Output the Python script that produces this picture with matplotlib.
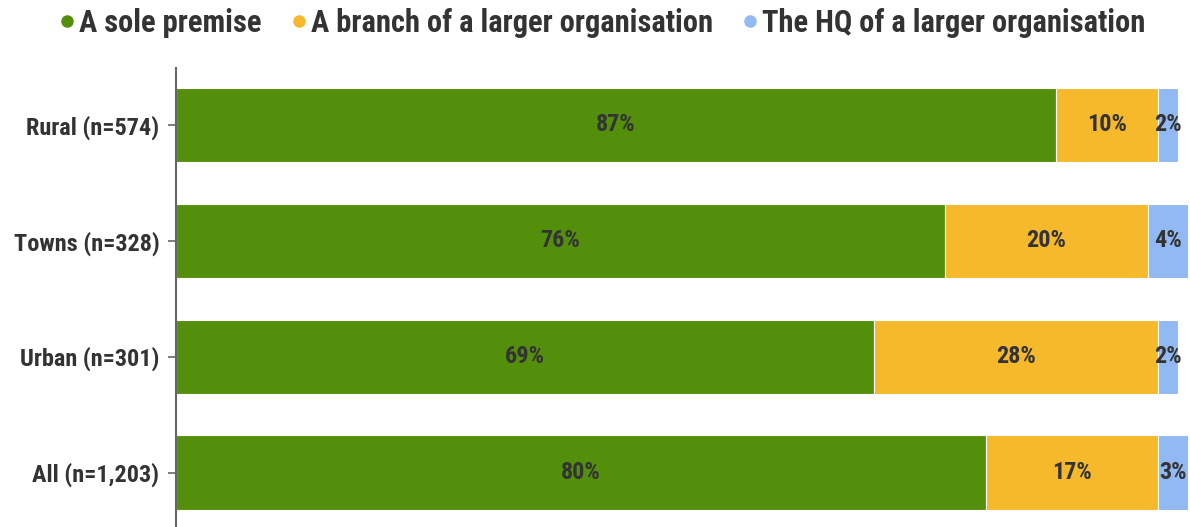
import matplotlib.pyplot as plt
from matplotlib.lines import Line2D
import numpy as np

# data
categories = ["Rural (n=574)", "Towns (n=328)", "Urban (n=301)", "All (n=1,203)"]
series = ["A sole premise", "A branch of a larger organisation", "The HQ of a larger organisation"]
sole = [87, 76, 69, 80]
branch = [10, 20, 28, 17]
hq = [2, 4, 2, 3]
colors = ["#548f0c", "#f6b92c", "#92b9f4"]
TEXT = "#333333"

plt.rcParams['font.family'] = ['Roboto Condensed', 'Roboto', 'DejaVu Sans']
plt.rcParams['font.weight'] = 'bold'

fig = plt.figure(figsize=(11.9, 5.27), dpi=100)
ax = fig.add_axes([176/1190, 0, (1188-176)/1190, (527-68)/527])

y = np.arange(len(categories))
left = np.zeros(len(categories))
for vals, col, name in zip([sole, branch, hq], colors, series):
    bars = ax.barh(y, vals, left=left, height=0.64, color=col,
                   edgecolor="white", linewidth=0.8, label=name)
    for b, v in zip(bars, vals):
        ax.text(b.get_x() + b.get_width()/2, b.get_y() + b.get_height()/2,
                f"{v}%", ha="center", va="center", color=TEXT,
                fontsize=17.5, fontweight="bold")
    left += np.array(vals)

ax.set_xlim(0, 100)
ax.set_ylim(3.47, -0.49)
ax.set_yticks(y)
ax.set_yticklabels(categories, fontsize=17.5, fontweight="bold", color=TEXT)
ax.set_xticks([])
for s in ["top", "right", "bottom"]:
    ax.spines[s].set_visible(False)
ax.spines["left"].set_color("#666666")
ax.spines["left"].set_linewidth(1.5)
ax.tick_params(axis="y", length=6, width=1.2, color="#666666", pad=6)

handles = [Line2D([], [], marker="o", linestyle="", markersize=8,
                  markerfacecolor=c, markeredgecolor=c) for c in colors]
fig.legend(handles, series, loc="center", bbox_to_anchor=(600/1190, 1 - 23/527),
           ncol=3, frameon=False, handletextpad=0.0, handlelength=0.8,
           columnspacing=0.8, labelcolor=TEXT, prop={"weight": "bold", "size": 22})

fig.savefig("out.png", dpi=100)
